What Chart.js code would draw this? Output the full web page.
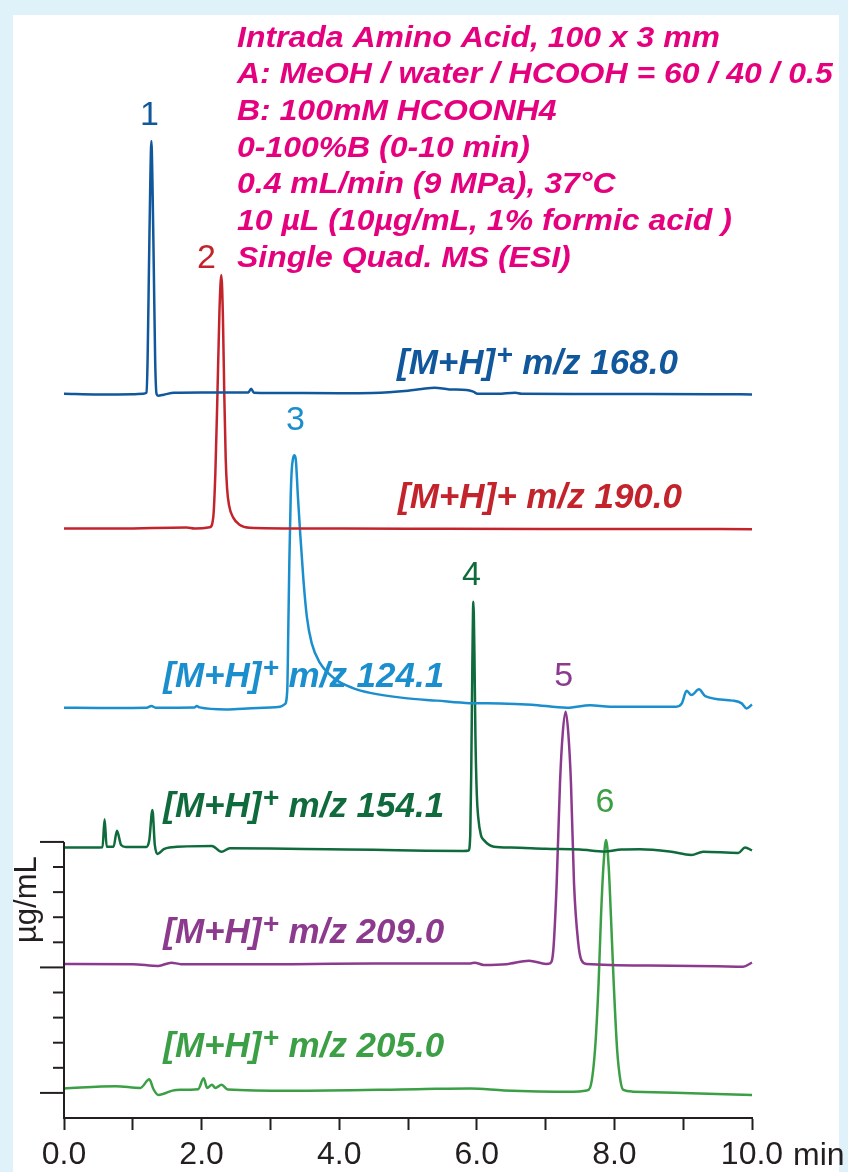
<!DOCTYPE html>
<html>
<head>
<meta charset="utf-8">
<script src="https://cdn.jsdelivr.net/npm/chart.js@4.4.1/dist/chart.umd.min.js"></script>
<style>
html,body{margin:0;padding:0;background:#ffffff;}
canvas{display:block;}
</style>
</head>
<body>
<canvas id="c" width="848" height="1172"></canvas>
<script>
// ---------- DATA (time in min, signal in µg/mL axis units, traces offset) ----------
const traceNames = ['m/z 168.0', 'm/z 190.0', 'm/z 124.1', 'm/z 154.1', 'm/z 209.0', 'm/z 205.0'];
const peakLabels = ['1', '2', '3', '4', '5', '6'];
const xTickValues = [0, 2, 4, 6, 8, 10];
const yTickValues = [0, 1, 2, 3, 4, 5, 6, 7, 8, 9, 10];
const headerLines = [
  'Intrada Amino Acid, 100 x 3 mm',
  'A: MeOH / water / HCOOH = 60 / 40 / 0.5',
  'B: 100mM HCOONH4',
  '0-100%B (0-10 min)',
  '0.4 mL/min (9 MPa), 37°C',
  '10 µL (10µg/mL, 1% formic acid )',
  'Single Quad. MS (ESI)'
];

const trace168 = [[0,27.86],[0.5,27.83],[1.0,27.84],[1.15,27.86],[1.20,27.9],[1.215,29.2],[1.235,32.9],[1.255,36.4],[1.27,37.93],[1.285,36.4],[1.305,32.9],[1.325,29.2],[1.345,27.85],[1.37,27.78],[1.45,27.82],[1.6,27.90],[2.0,27.91],[2.68,27.91],[2.72,28.06],[2.76,27.9],[3.0,27.89],[4.0,27.88],[4.48,27.89],[5.0,27.98],[5.2,28.05],[5.39,28.10],[5.6,28.03],[5.85,28.01],[5.95,27.94],[6.01,27.86],[6.3,27.86],[6.56,27.90],[6.65,27.86],[7.5,27.85],[8.5,27.85],[9.5,27.84],[10.0,27.83]];

const trace190 = [[0,22.49],[0.8,22.49],[1.78,22.53],[1.9,22.49],[2.12,22.54],[2.17,22.95],[2.20,24.7],[2.23,27.8],[2.26,31.2],[2.287,32.59],[2.31,30.9],[2.33,27.8],[2.35,25.3],[2.37,24.1],[2.40,23.4],[2.46,22.92],[2.55,22.64],[2.7,22.52],[3.5,22.49],[5.0,22.48],[7.0,22.47],[8.5,22.47],[10.0,22.46]];

const trace124 = [[0,15.35],[0.5,15.34],[1.2,15.35],[1.27,15.42],[1.33,15.35],[1.9,15.36],[1.93,15.42],[1.97,15.36],[2.36,15.28],[2.6,15.31],[3.0,15.36],[3.14,15.39],[3.21,15.49],[3.245,16.05],[3.26,18.44],[3.275,21.1],[3.295,23.75],[3.31,24.82],[3.33,25.29],[3.35,25.41],[3.37,25.21],[3.40,23.75],[3.43,22.43],[3.48,20.44],[3.53,18.97],[3.60,17.92],[3.72,17.13],[3.96,16.45],[4.20,16.13],[4.45,15.94],[4.93,15.74],[5.42,15.63],[5.90,15.53],[6.34,15.52],[6.8,15.47],[7.31,15.35],[7.65,15.45],[7.94,15.39],[8.9,15.39],[8.98,15.52],[9.05,16.02],[9.12,15.85],[9.23,16.08],[9.32,15.81],[9.72,15.63],[9.85,15.52],[9.92,15.32],[10.0,15.48]];

const trace154 = [[0,9.78],[0.45,9.78],[0.56,9.79],[0.59,10.9],[0.62,9.81],[0.72,9.81],[0.77,10.45],[0.83,9.88],[0.9,9.80],[1.2,9.80],[1.24,10.08],[1.285,11.27],[1.32,9.88],[1.36,9.52],[1.45,9.71],[1.53,9.78],[2.15,9.84],[2.29,9.61],[2.41,9.75],[3.0,9.74],[3.84,9.71],[4.5,9.69],[5.26,9.65],[5.81,9.64],[5.88,9.66],[5.905,10.3],[5.92,13.0],[5.935,17.0],[5.95,19.57],[5.965,17.6],[5.98,14.2],[6.0,11.9],[6.02,11.0],[6.06,10.27],[6.1,10.08],[6.25,9.81],[6.5,9.78],[7.0,9.73],[7.5,9.70],[7.86,9.62],[8.1,9.70],[8.37,9.71],[8.8,9.62],[9.12,9.48],[9.29,9.61],[9.8,9.56],[9.9,9.78],[10.0,9.66]];

const trace209 = [[0,5.14],[1.0,5.13],[1.37,5.06],[1.56,5.19],[1.7,5.13],[3.31,5.13],[4.5,5.16],[5.91,5.16],[5.97,5.19],[6.1,5.10],[6.43,5.13],[6.76,5.27],[7.01,5.14],[7.064,5.16],[7.112,5.69],[7.161,8.35],[7.209,12.33],[7.249,14.33],[7.292,15.19],[7.33,14.33],[7.369,12.33],[7.413,8.35],[7.475,5.96],[7.52,5.3],[7.597,5.14],[8.5,5.08],[9.5,5.05],[9.87,5.03],[10.0,5.19]];

const trace205 = [[0,0.18],[0.75,0.27],[1.11,0.20],[1.24,0.54],[1.30,0.15],[1.37,-0.08],[1.63,0.12],[1.95,0.15],[2.03,0.58],[2.08,0.2],[2.15,0.32],[2.2,0.2],[2.29,0.32],[2.38,0.14],[3.31,0.09],[5.13,0.15],[5.91,0.18],[6.4,0.10],[7.40,0.05],[7.60,0.10],[7.645,0.20],[7.718,1.71],[7.77,4.37],[7.805,7.02],[7.84,9.01],[7.878,10.08],[7.917,9.01],[7.95,7.02],[7.99,4.37],[8.04,1.71],[8.09,0.45],[8.13,0.12],[8.27,0.05],[9.24,-0.02],[10.0,-0.08]];

const traces = [trace168, trace190, trace124, trace154, trace209, trace205];

// ---------- STYLE ----------
const FONT = "'Liberation Sans', Arial, Helvetica, sans-serif";
const AXIS = '#231f20';
const colors = ['#11579b', '#c3242c', '#1b8fce', '#0f6a3c', '#8c3a8e', '#3b9f45'];
const MAGENTA = '#e5007e';

// label anchors (min, axis units) and peak label offsets (px)
const traceLabelPos = [[4.84, 28.66], [4.855, 23.30], [1.443, 16.17], [1.443, 11.0], [1.443, 5.97], [1.443, 1.42]];
const traceLabelSup = [true, false, true, true, true, true];
const peakLabelOffset = [[-2, -16], [-15, -7], [1, -25], [-2, -17], [-2, -26], [-1, -28]];

const decor = {
  id: 'decor',
  beforeDraw(chart) {
    const ctx = chart.ctx;
    ctx.save();
    ctx.fillStyle = '#dff1f9';
    ctx.fillRect(0, 0, chart.width, chart.height);
    ctx.fillStyle = '#ffffff';
    ctx.fillRect(13, 15, 826, chart.height - 15);
    ctx.restore();
  },
  afterDraw(chart) {
    const ctx = chart.ctx;
    const xs = chart.scales.x, ys = chart.scales.y;
    ctx.save();
    // partial y axis
    ctx.strokeStyle = AXIS;
    ctx.lineWidth = 2;
    const ax = xs.left;
    ctx.beginPath();
    ctx.moveTo(ax, ys.getPixelForValue(-1) + 1);
    ctx.lineTo(ax, ys.getPixelForValue(yTickValues[yTickValues.length - 1]));
    ctx.stroke();
    yTickValues.forEach(v => {
      const py = ys.getPixelForValue(v);
      const len = (v % 5 === 0) ? 24 : 11;
      ctx.beginPath();
      ctx.moveTo(ax - len, py);
      ctx.lineTo(ax, py);
      ctx.stroke();
    });
    // y title
    ctx.fillStyle = AXIS;
    ctx.font = '31px ' + FONT;
    ctx.textAlign = 'center';
    ctx.textBaseline = 'alphabetic';
    ctx.save();
    ctx.translate(36, ys.getPixelForValue(7.7));
    ctx.rotate(-Math.PI / 2);
    ctx.fillText('µg/mL', 0, 0);
    ctx.restore();
    // unit "min"
    ctx.font = '32px ' + FONT;
    ctx.textAlign = 'left';
    ctx.fillText('min', xs.right + 41, 1165);

    // header
    ctx.fillStyle = MAGENTA;
    ctx.font = 'italic bold 30px ' + FONT;
    headerLines.forEach((line, i) => {
      ctx.save();
      ctx.translate(237, 46.6 + 36.7 * i);
      ctx.scale(1.065, 1);
      ctx.fillText(line, 0, 0);
      ctx.restore();
    });

    // peak numbers
    ctx.font = '34px ' + FONT;
    ctx.textAlign = 'center';
    traces.forEach((tr, i) => {
      let best = tr[0];
      tr.forEach(p => { if (p[1] > best[1]) best = p; });
      const px = xs.getPixelForValue(best[0]) + peakLabelOffset[i][0];
      const py = ys.getPixelForValue(best[1]) + peakLabelOffset[i][1];
      ctx.fillStyle = colors[i];
      ctx.fillText(peakLabels[i], px, py);
    });

    // trace labels
    ctx.textAlign = 'left';
    traceNames.forEach((name, i) => {
      const px = xs.getPixelForValue(traceLabelPos[i][0]);
      const py = ys.getPixelForValue(traceLabelPos[i][1]);
      ctx.fillStyle = colors[i];
      ctx.font = 'italic bold 35px ' + FONT;
      ctx.fillText('[M+H]', px, py);
      let w = ctx.measureText('[M+H]').width;
      if (traceLabelSup[i]) {
        ctx.font = 'italic bold 28px ' + FONT;
        ctx.fillText('+', px + w + 1, py - 10);
        w += ctx.measureText('+').width + 1;
        ctx.font = 'italic bold 35px ' + FONT;
        ctx.fillText(' ' + name, px + w, py);
      } else {
        ctx.fillText('+ ' + name, px + w, py);
      }
    });
    ctx.restore();
  }
};

new Chart(document.getElementById('c').getContext('2d'), {
  type: 'line',
  data: {
    datasets: traces.map((tr, i) => ({
      label: traceNames[i],
      data: tr.map(p => ({ x: p[0], y: p[1] })),
      borderColor: colors[i],
      borderWidth: 2.5,
      pointRadius: 0,
      fill: false,
      cubicInterpolationMode: 'monotone',
      clip: false
    }))
  },
  options: {
    responsive: false,
    animation: false,
    devicePixelRatio: 1,
    layout: { padding: { left: 64, right: 96, top: 89, bottom: 0 } },
    plugins: { legend: { display: false }, tooltip: { enabled: false } },
    scales: {
      x: {
        type: 'linear', min: 0, max: 10, position: 'bottom',
        afterFit: s => { s.height = 54; },
        afterBuildTicks: s => { s.ticks = [0,1,2,3,4,5,6,7,8,9,10].map(v => ({ value: v })); },
        ticks: {
          autoSkip: false, maxRotation: 0, padding: 6, color: AXIS,
          font: { family: FONT, size: 32 },
          callback: v => (xTickValues.includes(v) ? v.toFixed(1) : '')
        },
        grid: { drawOnChartArea: false, drawTicks: true, tickLength: 12, tickWidth: 2, tickColor: AXIS },
        border: { display: true, color: AXIS, width: 2 }
      },
      y: { type: 'linear', min: -1, max: 40, display: false }
    }
  },
  plugins: [decor]
});
</script>
</body>
</html>
